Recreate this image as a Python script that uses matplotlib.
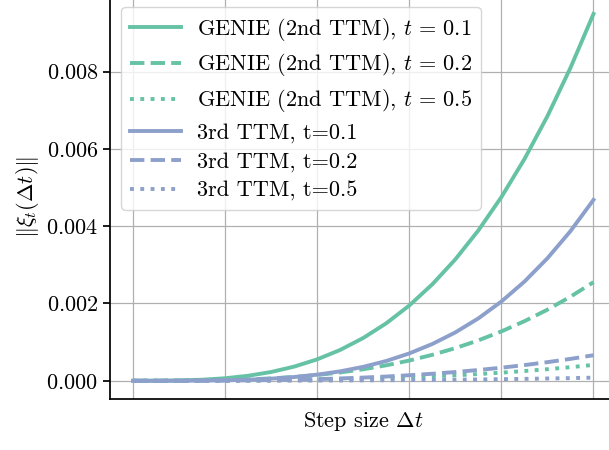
import numpy as np
import matplotlib
matplotlib.use('Agg')
import matplotlib.pyplot as plt

plt.rcParams['font.family'] = 'serif'
plt.rcParams['font.serif'] = ['cmr10']
plt.rcParams['mathtext.fontset'] = 'cm'
plt.rcParams['axes.formatter.use_mathtext'] = True
plt.rcParams['font.size'] = 16

# step sizes (x axis has no tick labels in the original)
dt = [0.000, 0.005, 0.010, 0.015, 0.020, 0.025, 0.030, 0.035, 0.040, 0.045, 0.050,
      0.055, 0.060, 0.065, 0.070, 0.075, 0.080, 0.085, 0.090, 0.095, 0.100]

genie_t01 = [0.0, 0.0000009, 0.0000075, 0.0000265, 0.0000647, 0.000129, 0.000227,
             0.000366, 0.000554, 0.000798, 0.001107, 0.001487, 0.001947, 0.002496,
             0.003141, 0.003890, 0.004752, 0.005734, 0.006846, 0.008095, 0.00949]
genie_t02 = [0.0, 0.0000002, 0.0000020, 0.0000071, 0.0000174, 0.0000347, 0.0000610,
             0.0000984, 0.000149, 0.000215, 0.000297, 0.000400, 0.000523, 0.000671,
             0.000844, 0.001045, 0.001277, 0.001541, 0.001839, 0.002175, 0.00255]
genie_t05 = [0.0, 0.00000005, 0.00000041, 0.00000138, 0.00000328, 0.00000641, 0.00001107,
             0.00001758, 0.00002624, 0.00003736, 0.00005125, 0.0000682, 0.0000886, 0.0001126,
             0.0001406, 0.0001730, 0.0002099, 0.0002518, 0.0002989, 0.0003515, 0.00041]
ttm3_t01 = [0.0, 0.0000001, 0.0000009, 0.0000042, 0.0000121, 0.0000277, 0.0000544,
            0.0000963, 0.000158, 0.000244, 0.000360, 0.000512, 0.000707, 0.000951,
            0.001251, 0.001614, 0.002050, 0.002565, 0.003169, 0.003871, 0.00468]
ttm3_t02 = [0.0, 0.00000008, 0.00000066, 0.0000022, 0.0000053, 0.0000103, 0.0000178,
            0.0000283, 0.0000422, 0.0000601, 0.0000825, 0.0001098, 0.0001426, 0.0001813,
            0.0002264, 0.0002784, 0.0003379, 0.0004053, 0.0004811, 0.0005659, 0.00066]
ttm3_t05 = [0.0, 0.00000001, 0.00000008, 0.00000027, 0.00000064, 0.00000125, 0.00000216,
            0.00000343, 0.00000512, 0.00000729, 0.0000100, 0.0000133, 0.0000173, 0.0000220,
            0.0000274, 0.0000338, 0.0000410, 0.0000491, 0.0000583, 0.0000686, 0.000080]

green = '#66c2a5'
blue = '#8da0cb'

fig = plt.figure(figsize=(6.09, 4.5), dpi=100)
ax = fig.add_axes([110 / 609, 50.9 / 450, 506.5 / 609, 403.5 / 450])

lw = 2.8
ax.plot(dt, genie_t01, color=green, lw=lw, ls='-', label=r'GENIE (2nd TTM), $t\,=\,0.1$')
ax.plot(dt, genie_t02, color=green, lw=lw, ls='--', label=r'GENIE (2nd TTM), $t\,=\,0.2$')
ax.plot(dt, genie_t05, color=green, lw=lw, ls=':', label=r'GENIE (2nd TTM), $t\,=\,0.5$')
ax.plot(dt, ttm3_t01, color=blue, lw=lw, ls='-', label='3rd TTM, t=0.1')
ax.plot(dt, ttm3_t02, color=blue, lw=lw, ls='--', label='3rd TTM, t=0.2')
ax.plot(dt, ttm3_t05, color=blue, lw=lw, ls=':', label='3rd TTM, t=0.5')

ax.set_xticks([0.0, 0.02, 0.04, 0.06, 0.08, 0.10])
ax.set_xticklabels([])
ax.set_yticks([0.0, 0.002, 0.004, 0.006, 0.008])
ax.grid(True, color='#b0b0b0', lw=0.9)
ax.set_axisbelow(True)
ax.tick_params(length=5, width=1.25)
ax.tick_params(axis='x', length=0)
for s in ax.spines.values():
    s.set_linewidth(1.25)

ax.set_xlabel(r'Step size $\Delta t$')
ax.set_ylabel(r'$\|\xi_t(\Delta t)\|$')
ax.legend(loc='upper left', handlelength=2.3, handletextpad=0.7,
          labelspacing=0.4, fontsize=16)

fig.savefig('out.png', dpi=100)
